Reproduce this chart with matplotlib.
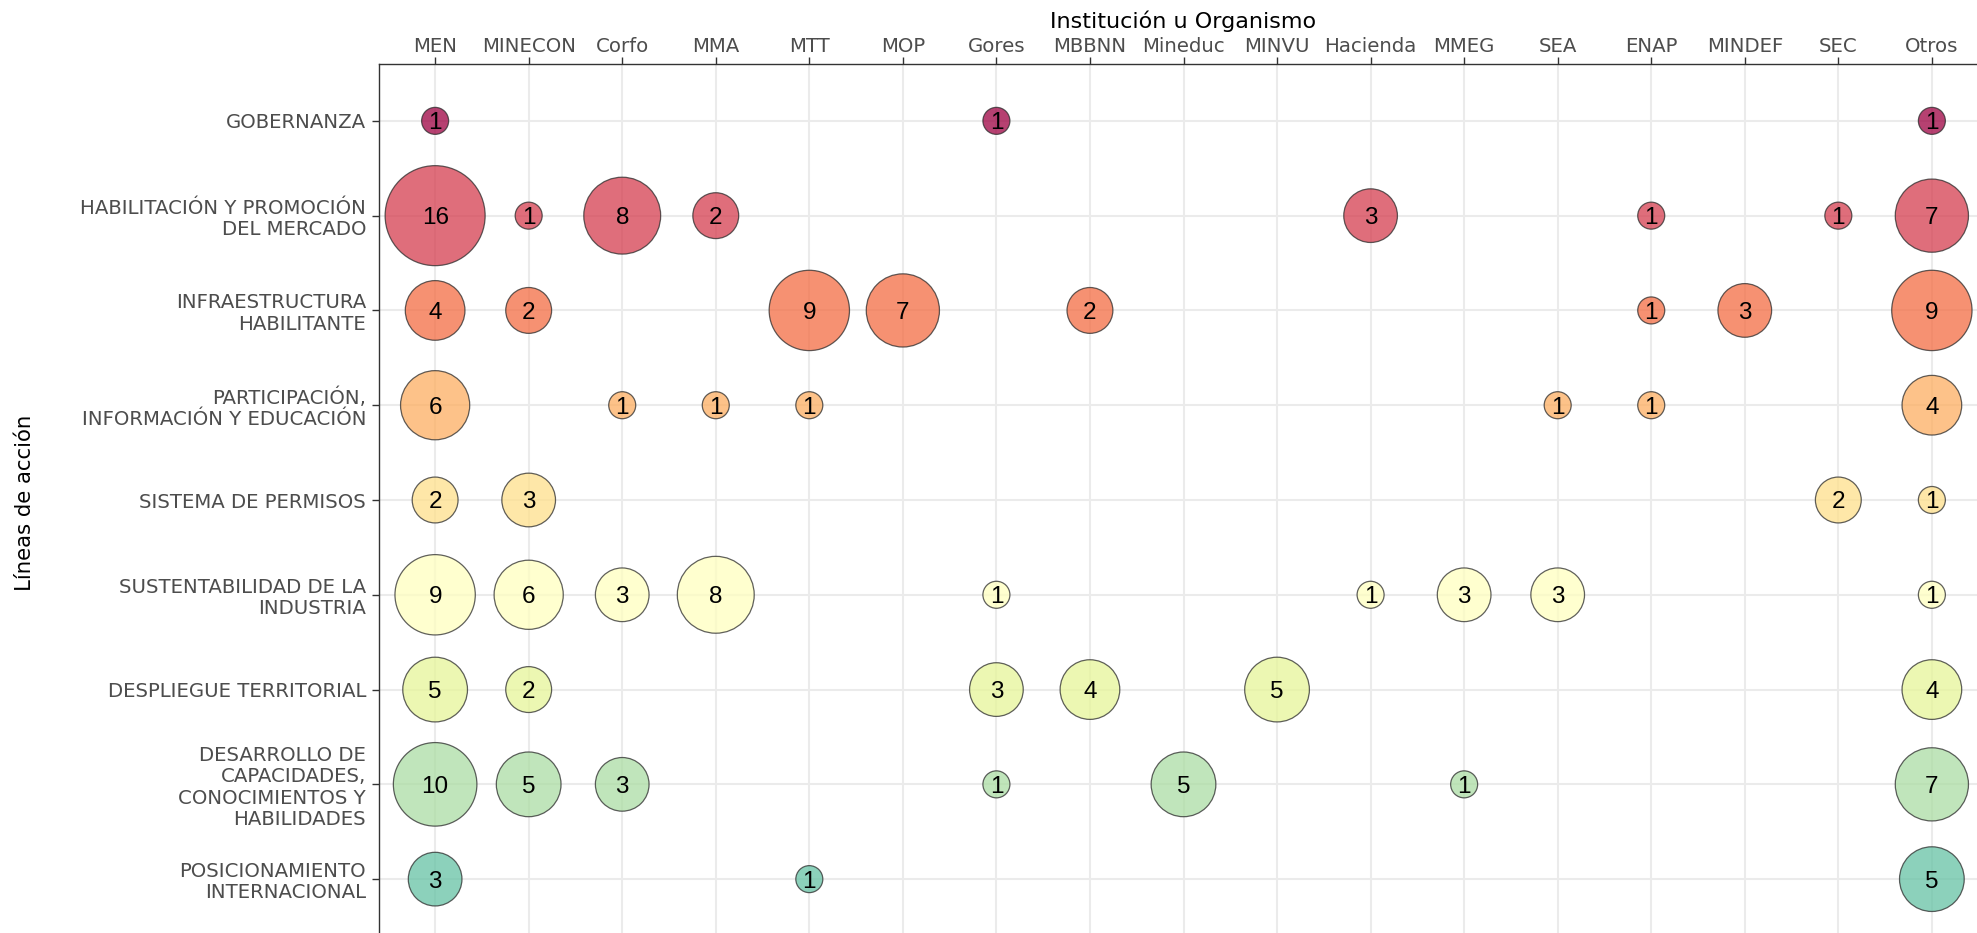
import numpy as np
import matplotlib
matplotlib.use("Agg")
import matplotlib.pyplot as plt

plt.rcParams['font.family'] = ['DejaVu Sans']

# categories
instituciones = ["MEN", "MINECON", "Corfo", "MMA", "MTT", "MOP", "Gores", "MBBNN",
                 "Mineduc", "MINVU", "Hacienda", "MMEG", "SEA", "ENAP", "MINDEF",
                 "SEC", "Otros"]
lineas = ["GOBERNANZA",
          "HABILITACIÓN Y PROMOCIÓN\nDEL MERCADO",
          "INFRAESTRUCTURA\nHABILITANTE",
          "PARTICIPACIÓN,\nINFORMACIÓN Y EDUCACIÓN",
          "SISTEMA DE PERMISOS",
          "SUSTENTABILIDAD DE LA\nINDUSTRIA",
          "DESPLIEGUE TERRITORIAL",
          "DESARROLLO DE\nCAPACIDADES,\nCONOCIMIENTOS Y\nHABILIDADES",
          "POSICIONAMIENTO\nINTERNACIONAL"]

# counts per linea: {institucion: n}
gobernanza = {"MEN": 1, "Gores": 1, "Otros": 1}
habilitacion = {"MEN": 16, "MINECON": 1, "Corfo": 8, "MMA": 2, "Hacienda": 3,
                "ENAP": 1, "SEC": 1, "Otros": 7}
infraestructura = {"MEN": 4, "MINECON": 2, "MTT": 9, "MOP": 7, "MBBNN": 2,
                   "ENAP": 1, "MINDEF": 3, "Otros": 9}
participacion = {"MEN": 6, "Corfo": 1, "MMA": 1, "MTT": 1, "SEA": 1, "ENAP": 1,
                 "Otros": 4}
permisos = {"MEN": 2, "MINECON": 3, "SEC": 2, "Otros": 1}
sustentabilidad = {"MEN": 9, "MINECON": 6, "Corfo": 3, "MMA": 8, "Gores": 1,
                   "Hacienda": 1, "MMEG": 3, "SEA": 3, "Otros": 1}
despliegue = {"MEN": 5, "MINECON": 2, "Gores": 3, "MBBNN": 4, "MINVU": 5,
              "Otros": 4}
desarrollo = {"MEN": 10, "MINECON": 5, "Corfo": 3, "Gores": 1, "Mineduc": 5,
              "MMEG": 1, "Otros": 7}
posicionamiento = {"MEN": 3, "MTT": 1, "Otros": 5}

conteos = [gobernanza, habilitacion, infraestructura, participacion, permisos,
           sustentabilidad, despliegue, desarrollo, posicionamiento]

colores = ["#9E0142", "#D53E4F", "#F46D43", "#FDAE61", "#FEE08B", "#FFFFBF",
           "#E6F598", "#ABDDA4", "#66C2A5"]

dpi = 100
fig = plt.figure(figsize=(19.77, 9.33), dpi=dpi)
ax = fig.add_axes([379 / 1977, -3 / 933, 1609 / 1977, 872 / 933])

vmin, vmax = 1, 16
def diam_px(v):
    # area scale like ggplot scale_size (range of diameters in px)
    return 27 + 73 * np.sqrt((v - vmin) / (vmax - vmin))

for yi, (row, col) in enumerate(zip(conteos, colores)):
    xs = [instituciones.index(k) for k in row]
    ns = list(row.values())
    sizes = [(diam_px(n) * 72 / dpi) ** 2 for n in ns]
    ax.scatter(xs, [yi] * len(xs), s=sizes, color=col, alpha=0.75,
               edgecolors="#2b2b2b", linewidths=0.9, zorder=3)
    for x, n in zip(xs, ns):
        ax.text(x, yi, str(n), ha="center", va="center_baseline", fontsize=17.5,
                family="Liberation Sans", color="black", zorder=4)

ax.set_xlim(-0.6, len(instituciones) - 0.4)
ax.set_ylim(len(lineas) - 0.4, -0.6)
ax.set_xticks(range(len(instituciones)))
ax.set_xticklabels(instituciones)
ax.set_yticks(range(len(lineas)))
ax.set_yticklabels(lineas, linespacing=1.15)
ax.xaxis.tick_top()
ax.xaxis.set_label_position("top")
ax.tick_params(axis="both", colors="#333333", labelcolor="#4D4D4D",
               labelsize=14.2, length=5, width=1.0)
ax.tick_params(axis="x", pad=0.8)
ax.tick_params(axis="y", pad=4.3)
ax.grid(True, color="#EBEBEB", linewidth=1.5, zorder=0)
ax.set_axisbelow(True)
for sp in ax.spines.values():
    sp.set_color("#333333")
    sp.set_linewidth(1.0)

ax.set_xlabel("Institución u Organismo", fontsize=16, labelpad=6.2)
fig.text(25 / 1977, 1 - 503 / 933, "Líneas de acción", rotation=90,
         fontsize=15.3, ha="center", va="center")

fig.savefig("out.png", dpi=dpi)
